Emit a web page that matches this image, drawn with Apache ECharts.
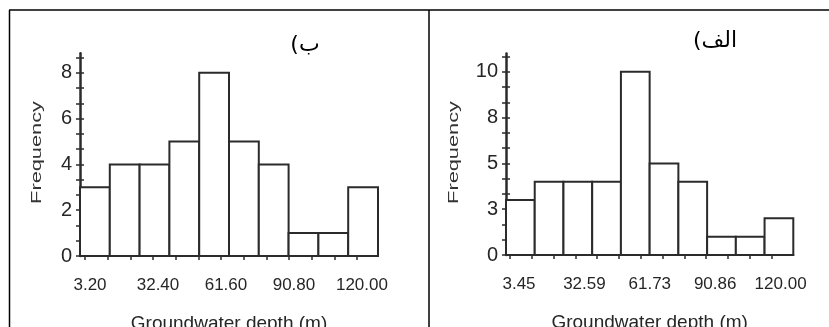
<!DOCTYPE html>
<html>
<head>
<meta charset="utf-8">
<title>Groundwater depth histograms</title>
<script src="https://cdn.jsdelivr.net/npm/echarts@6/dist/echarts.min.js"></script>
<style>
    html, body { margin: 0; padding: 0; background: #fff; }
    #chart { width: 829px; height: 327px; }
</style>
</head>
<body>
<div id="chart"></div>
<script>
// panel ب)
var leftCounts = [3, 4, 4, 5, 8, 5, 4, 1, 1, 3];
var leftBinStart = 1.05;
var leftBinWidth = 12.8;
var leftXLabels = [3.20, 32.40, 61.60, 90.80, 120.00];
var leftYLabels = [0, 2, 4, 6, 8];

// panel الف)
var rightCounts = [3, 4, 4, 4, 10, 5, 4, 1, 1, 2];
var rightBinStart = 1.67;
var rightBinWidth = 12.8;
var rightXLabels = [3.45, 32.59, 61.73, 90.86, 120.00];
var rightYLabels = [0, 2.5, 5, 7.5, 10];
var rightYText = ['0', '3', '5', '8', '10'];

var ink = '#2b2b2b';
var txt = '#262626';
var sans = "'Liberation Sans', Arial, sans-serif";

function bins(start, width, counts) {
    return counts.map(function (c, i) {
        return [start + i * width, start + (i + 1) * width, c];
    });
}

// minor ticks between labelled ones, plus a few past the last label
function subTicks(labels, n, extra) {
    var t = [];
    for (var i = 0; i < labels.length - 1; i++) {
        for (var j = 0; j < n; j++) {
            t.push(labels[i] + (labels[i + 1] - labels[i]) * j / n);
        }
    }
    var last = labels[labels.length - 1];
    var step = (labels[1] - labels[0]) / n;
    t.push(last);
    for (var k = 1; k <= extra; k++) t.push(last + step * k);
    return t;
}

function renderBar(params, api) {
    var p0 = api.coord([api.value(0), api.value(2)]);
    var p1 = api.coord([api.value(1), 0]);
    return {
        type: 'rect',
        shape: { x: p0[0], y: p0[1], width: p1[0] - p0[0], height: p1[1] - p0[1] },
        style: { fill: '#fff', stroke: ink, lineWidth: 2 }
    };
}

function xAxis(grid, start, width, labels, pad) {
    return {
        type: 'value',
        gridIndex: grid,
        min: start,
        max: start + 10 * width,
        name: 'Groundwater depth (m)',
        nameLocation: 'middle',
        nameGap: 58,
        nameTextStyle: { fontFamily: sans, fontSize: 19, color: txt },
        axisLine: { onZero: false, lineStyle: { color: ink, width: 2 } },
        axisTick: { customValues: subTicks(labels, 3, 0), length: 4, lineStyle: { color: ink, width: 1.5 } },
        axisLabel: {
            customValues: labels,
            formatter: function (v) { return v.toFixed(2); },
            fontFamily: sans, fontSize: 17, color: txt,
            margin: 21, padding: [0, 0, 0, pad]
        },
        splitLine: { show: false }
    };
}

function yAxes(grid, max, labels, texts) {
    var ticks = subTicks(labels, 3, 1);
    return [{
        type: 'value',
        gridIndex: grid,
        position: 'left',
        min: 0,
        max: max,
        axisLine: { show: true, onZero: false, lineStyle: { color: ink, width: 2.5 } },
        axisTick: { show: true, customValues: ticks, length: 4, lineStyle: { color: ink, width: 1.5 } },
        axisLabel: {
            customValues: labels,
            formatter: function (v) {
                var i = labels.indexOf(v);
                return i >= 0 ? texts[i] : '';
            },
            fontFamily: sans, fontSize: 20, color: txt, margin: 8
        },
        splitLine: { show: false }
    }, {
        type: 'value',
        gridIndex: grid,
        position: 'left',
        offset: 0,
        min: 0,
        max: max,
        axisLine: { show: false },
        axisTick: { show: true, inside: true, customValues: ticks, length: 4, lineStyle: { color: ink, width: 1.5 } },
        axisLabel: { show: false },
        splitLine: { show: false }
    }];
}

function freqLabel(x) {
    return {
        type: 'text', x: x, y: 152.5, rotation: Math.PI / 2, scaleX: 1.45,
        style: { text: 'Frequency', fontFamily: sans, fontSize: 15, fill: '#333', align: 'center', verticalAlign: 'middle' }
    };
}

function panelTitle(text, x, y) {
    return {
        type: 'text', x: x, y: y,
        style: { text: text + '\u200F', fontFamily: "'DejaVu Sans', sans-serif", fontSize: 22, fill: '#000', align: 'center', verticalAlign: 'middle' }
    };
}

function rule(x1, y1, x2, y2) {
    return { type: 'line', shape: { x1: x1, y1: y1, x2: x2, y2: y2 }, style: { stroke: '#000', lineWidth: 1.5 } };
}

var myChart = echarts.init(document.getElementById('chart'));
myChart.setOption({
    animation: false,
    backgroundColor: '#fff',
    grid: [
        { left: 80, right: 451, top: 53.3, bottom: 71, outerBoundsMode: 'none' },
        { left: 506, right: 35.7, top: 53.5, bottom: 72, outerBoundsMode: 'none' }
    ],
    xAxis: [
        xAxis(0, leftBinStart, leftBinWidth, leftXLabels, 10),
        xAxis(1, rightBinStart, rightBinWidth, rightXLabels, 18)
    ],
    yAxis: yAxes(0, 8.85, leftYLabels, ['0', '2', '4', '6', '8'])
        .concat(yAxes(1, 11.0, rightYLabels, rightYText)),
    series: [{
        type: 'custom',
        name: 'ب)',
        xAxisIndex: 0,
        yAxisIndex: 0,
        renderItem: renderBar,
        encode: { x: [0, 1], y: 2 },
        data: bins(leftBinStart, leftBinWidth, leftCounts)
    }, {
        type: 'custom',
        name: 'الف)',
        xAxisIndex: 1,
        yAxisIndex: 2,
        renderItem: renderBar,
        encode: { x: [0, 1], y: 2 },
        data: bins(rightBinStart, rightBinWidth, rightCounts)
    }],
    graphic: [
        rule(9, 10, 829, 10),
        rule(9.5, 10, 9.5, 327),
        rule(429, 10, 429, 327),
        panelTitle('ب)', 305, 45),
        panelTitle('الف)', 715, 41),
        freqLabel(36.5),
        freqLabel(454)
    ]
});
</script>
</body>
</html>
